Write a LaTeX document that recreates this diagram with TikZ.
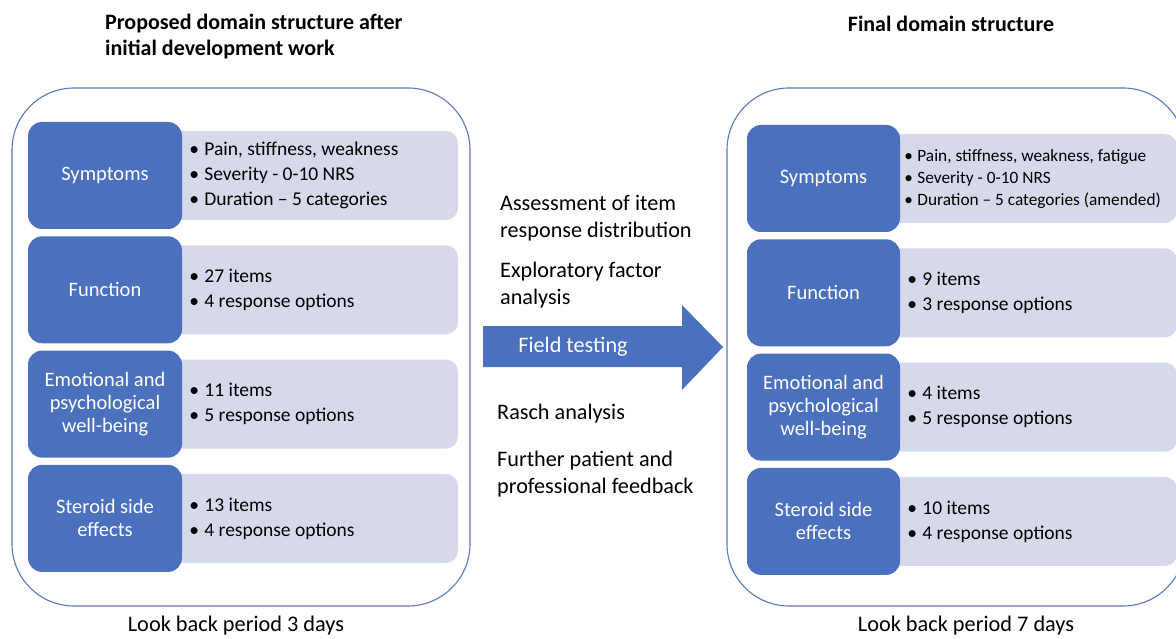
\documentclass[tikz,border=0pt]{standalone}
\usepackage{fontspec}
\setmainfont{Carlito}
\usetikzlibrary{positioning}
\definecolor{boxblue}{HTML}{4A70BE}
\definecolor{boxgray}{HTML}{D5D9EA}
\definecolor{lineblue}{HTML}{5A78BC}
\newcommand{\bul}[1]{\makebox[15pt][l]{\textbullet}#1}
\newcommand{\sbul}[1]{\makebox[13pt][l]{\textbullet}#1}
\begin{document}
\begin{tikzpicture}[x=1pt,y=-1pt,
	outer/.style={draw=lineblue, line width=1.1pt, rounded corners=62pt},
	bluebox/.style={fill=boxblue, rounded corners=14pt, text=white, align=center,
		minimum width=154pt, minimum height=107pt, inner sep=2pt,
		font=\fontsize{20.5}{23}\selectfont},
	graybox/.style={fill=boxgray, rounded corners=12pt},
	itemtext/.style={anchor=west, align=left, inner sep=0pt,
		font=\fontsize{19.5}{25}\selectfont},
	smalltext/.style={itemtext, font=\fontsize{17.3}{22}\selectfont},
	midtext/.style={anchor=west, align=left, inner sep=0pt,
		font=\fontsize{22.2}{27}\selectfont},
	headtext/.style={align=left, inner sep=0pt, font=\bfseries\fontsize{22}{26}\selectfont},
	foottext/.style={inner sep=0pt, font=\fontsize{22.3}{25}\selectfont}]
	\def\rowsep{114.3}
	\useasboundingbox (0,0) rectangle (1176,639);
	\clip (0,0) rectangle (1176,639);

	% headings
	\node[headtext, anchor=west] (lhead) at (105,37) {Proposed domain structure after\\initial development work};
	\node[headtext] (rhead) at (951,24) {Final domain structure};

	% outer frames
	\draw[outer] (12,88) rectangle (470,606);
	\draw[outer] (727,88) rectangle (1185,606);

	% gray strips behind the domain boxes
	\foreach \px/\py in {0/0, 719/3} {
		\foreach \r in {0,...,3} {
			\fill[graybox] (170+\px, 131+\py+\r*\rowsep) rectangle ++(288,89);
		}
	}

	% left panel
	\node[bluebox] (lsym) at (105,175.5) {Symptoms};
	\node[bluebox] (lfun) at (105,175.5+\rowsep) {Function};
	\node[bluebox] (lemo) at (105,175.5+2*\rowsep) {Emotional and\\psychological\\well-being};
	\node[bluebox] (lste) at (105,175.5+3*\rowsep) {Steroid side\\effects};
	\node[itemtext, right=7pt of lsym] (lsymtxt) {\bul{Pain, stiffness, weakness}\\\bul{Severity - 0-10 NRS}\\\bul{Duration -- 5 categories}};
	\node[itemtext, right=7pt of lfun] (lfuntxt) {\bul{27 items}\\\bul{4 response options}};
	\node[itemtext, right=7pt of lemo] (lemotxt) {\bul{11 items}\\\bul{5 response options}};
	\node[itemtext, right=7pt of lste] (lstetxt) {\bul{13 items}\\\bul{4 response options}};

	% right panel
	\node[bluebox, minimum width=153pt] (rsym) at (823.5,178.5) {Symptoms};
	\node[bluebox, minimum width=153pt] (rfun) at (823.5,178.5+\rowsep) {Function};
	\node[bluebox, minimum width=153pt] (remo) at (823.5,178.5+2*\rowsep) {Emotional and\\psychological\\well-being};
	\node[bluebox, minimum width=153pt] (rste) at (823.5,178.5+3*\rowsep) {Steroid side\\effects};
	\node[smalltext, right=4pt of rsym] (rsymtxt) {\sbul{Pain, stiffness, weakness, fatigue}\\\sbul{Severity - 0-10 NRS}\\\sbul{Duration -- 5 categories (amended)}};
	\node[itemtext, right=7pt of rfun] (rfuntxt) {\bul{9 items}\\\bul{3 response options}};
	\node[itemtext, right=7pt of remo] (remotxt) {\bul{4 items}\\\bul{5 response options}};
	\node[itemtext, right=7pt of rste] (rstetxt) {\bul{10 items}\\\bul{4 response options}};

	% field testing arrow
	\fill[boxblue] (483,326) -- (682,326) -- (682,305) -- (723,347)
		-- (682,390) -- (682,367) -- (483,367) -- cycle;
	\node[text=white, font=\fontsize{22.2}{25}\selectfont, inner sep=0pt] (field) at (573,347) {Field testing};

	% analysis steps
	\node[midtext] (assess) at (500,218.5) {Assessment of item\\response distribution};
	\node[midtext] (efa) at (500,285.5) {Exploratory factor\\analysis};
	\node[midtext] (rasch) at (497,414) {Rasch analysis};
	\node[midtext] (feedback) at (497,474.5) {Further patient and\\professional feedback};

	% look back periods
	\node[foottext] (lfoot) at (236,626) {Look back period 3 days};
	\node[foottext] (rfoot) at (966,626) {Look back period 7 days};
\end{tikzpicture}
\end{document}
